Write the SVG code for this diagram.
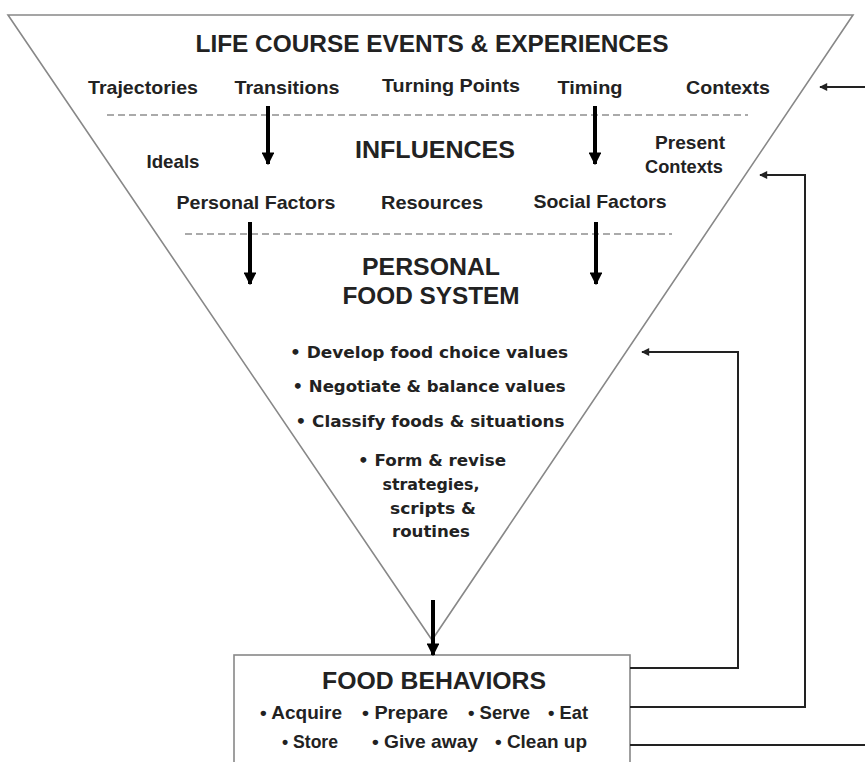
<svg xmlns="http://www.w3.org/2000/svg" width="865" height="762" viewBox="0 0 865 762">
<style>
.t{font-family:"Liberation Sans",Arial,sans-serif;font-weight:bold;fill:#222;text-anchor:middle}
.h{font-size:24px}
.s{font-size:19px}
.v{font-family:"DejaVu Sans",Verdana,sans-serif;font-weight:bold;font-size:16px;fill:#222;text-anchor:middle}
.dash{stroke:#aaa;stroke-width:2;stroke-dasharray:7,4;fill:none}
.big{stroke:#000;stroke-width:4;fill:none;marker-end:url(#ah)}
.fb{stroke:#222;stroke-width:2;fill:none;marker-end:url(#sh)}
</style>
<defs>
<marker id="ah" viewBox="0 0 10 10" refX="9" refY="5" markerWidth="3.2" markerHeight="3.2" orient="auto" markerUnits="strokeWidth"><path d="M0,0 L10,5 L0,10 z" fill="#000"/></marker>
<marker id="sh" viewBox="0 0 10 10" refX="9" refY="5" markerWidth="5" markerHeight="4" orient="auto" markerUnits="strokeWidth"><path d="M0,0 L10,5 L0,10 z" fill="#222"/></marker>
</defs>
<rect width="865" height="762" fill="#fff"/>
<g id="funnel">
<polygon points="8,15 853,15 432,640" fill="#fff" stroke="#888" stroke-width="1.6"/>
<line x1="107" y1="115" x2="748" y2="115" class="dash"/>
<line x1="185" y1="234" x2="672" y2="234" class="dash"/>
</g>
<g id="life-course">
<text class="t h" x="432" y="52" textLength="473" lengthAdjust="spacingAndGlyphs">LIFE COURSE EVENTS &amp; EXPERIENCES</text>
<text class="t s" x="143" y="94" textLength="110" lengthAdjust="spacingAndGlyphs">Trajectories</text>
<text class="t s" x="287" y="94" textLength="105" lengthAdjust="spacingAndGlyphs">Transitions</text>
<text class="t s" x="451" y="92" textLength="138" lengthAdjust="spacingAndGlyphs">Turning Points</text>
<text class="t s" x="590" y="94" textLength="65" lengthAdjust="spacingAndGlyphs">Timing</text>
<text class="t s" x="728" y="94" textLength="84" lengthAdjust="spacingAndGlyphs">Contexts</text>
</g>
<g id="influences">
<text class="t h" x="435" y="158" textLength="160" lengthAdjust="spacingAndGlyphs">INFLUENCES</text>
<text class="t s" x="173" y="168" textLength="53" lengthAdjust="spacingAndGlyphs">Ideals</text>
<text class="t s" x="690" y="149" textLength="70" lengthAdjust="spacingAndGlyphs">Present</text>
<text class="t s" x="684" y="173" textLength="78" lengthAdjust="spacingAndGlyphs">Contexts</text>
<text class="t s" x="256" y="209" textLength="159" lengthAdjust="spacingAndGlyphs">Personal Factors</text>
<text class="t s" x="432" y="209" textLength="102" lengthAdjust="spacingAndGlyphs">Resources</text>
<text class="t s" x="600" y="208" textLength="133" lengthAdjust="spacingAndGlyphs">Social Factors</text>
</g>
<g id="personal-food-system">
<text class="t h" x="431" y="275" textLength="138" lengthAdjust="spacingAndGlyphs">PERSONAL</text>
<text class="t h" x="431" y="304" textLength="177" lengthAdjust="spacingAndGlyphs">FOOD SYSTEM</text>
<text class="v" x="429" y="358" textLength="278" lengthAdjust="spacingAndGlyphs">•  Develop food choice values</text>
<text class="v" x="429" y="392" textLength="273" lengthAdjust="spacingAndGlyphs">•  Negotiate &amp; balance values</text>
<text class="v" x="430" y="427" textLength="269" lengthAdjust="spacingAndGlyphs">•  Classify foods &amp; situations</text>
<text class="v" x="432" y="466" textLength="148" lengthAdjust="spacingAndGlyphs">•  Form &amp; revise</text>
<text class="v" x="431" y="490" textLength="97" lengthAdjust="spacingAndGlyphs">strategies,</text>
<text class="v" x="433" y="514" textLength="86" lengthAdjust="spacingAndGlyphs">scripts &amp;</text>
<text class="v" x="431" y="537" textLength="78" lengthAdjust="spacingAndGlyphs">routines</text>
</g>
<g id="food-behaviors">
<rect x="234" y="655" width="396" height="120" fill="#fff" stroke="#888" stroke-width="1.6"/>
<text class="t h" x="434" y="689" textLength="224" lengthAdjust="spacingAndGlyphs">FOOD BEHAVIORS</text>
<text class="t s" x="301" y="719" textLength="82" lengthAdjust="spacingAndGlyphs">• Acquire</text>
<text class="t s" x="405" y="719" textLength="86" lengthAdjust="spacingAndGlyphs">• Prepare</text>
<text class="t s" x="499" y="719" textLength="62" lengthAdjust="spacingAndGlyphs">• Serve</text>
<text class="t s" x="568" y="719" textLength="40" lengthAdjust="spacingAndGlyphs">• Eat</text>
<text class="t s" x="310" y="748" textLength="56" lengthAdjust="spacingAndGlyphs">• Store</text>
<text class="t s" x="425" y="748" textLength="106" lengthAdjust="spacingAndGlyphs">• Give away</text>
<text class="t s" x="541" y="748" textLength="92" lengthAdjust="spacingAndGlyphs">• Clean up</text>
</g>
<g id="connectors">
<line x1="268" y1="106" x2="268" y2="164" class="big"/>
<line x1="595" y1="106" x2="595" y2="164" class="big"/>
<line x1="250" y1="222" x2="250" y2="284" class="big"/>
<line x1="596" y1="222" x2="596" y2="284" class="big"/>
<line x1="433" y1="600" x2="433" y2="655" class="big"/>
<polyline points="630,668 738,668 738,352 642,352" class="fb"/>
<polyline points="630,707 805,707 805,175 760,175" class="fb"/>
<polyline points="630,745 865,745" stroke="#222" stroke-width="2" fill="none"/>
<line x1="865" y1="87" x2="820" y2="87" class="fb"/>
</g>
</svg>
